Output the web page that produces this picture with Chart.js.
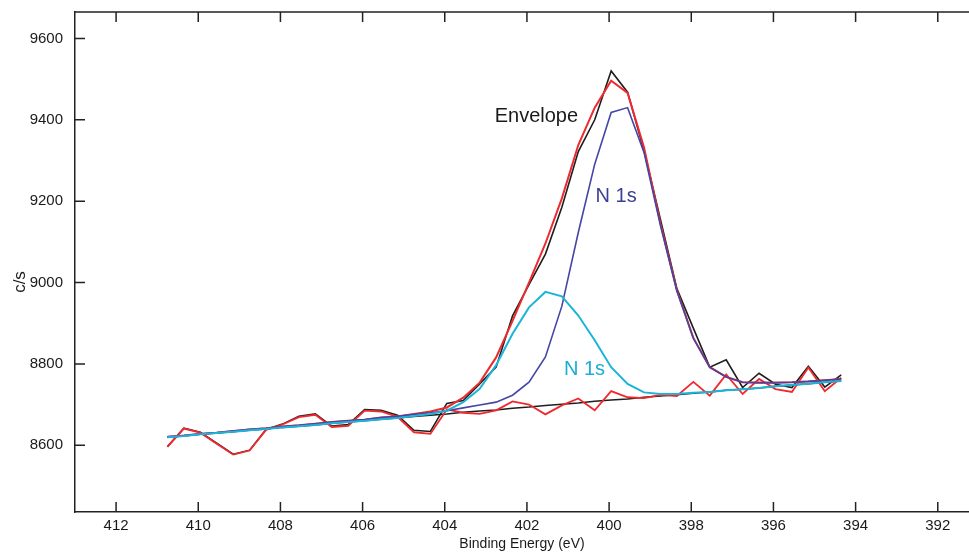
<!DOCTYPE html>
<html>
<head>
<meta charset="utf-8">
<script src="https://cdn.jsdelivr.net/npm/chart.js@4.4.0/dist/chart.umd.min.js"></script>
<style>
  html, body { margin: 0; padding: 0; background: #ffffff; }
  #grafico { display: block; }
</style>
</head>
<body>
<canvas id="grafico" width="969" height="554"></canvas>
<script>
// binding energy of every channel (eV)
const energias = [410.75, 410.35, 409.95, 409.55, 409.15, 408.75, 408.35, 407.95, 407.55, 407.15,
    406.75, 406.35, 405.95, 405.55, 405.15, 404.75, 404.35, 403.95, 403.55, 403.15,
    402.75, 402.35, 401.95, 401.55, 401.15, 400.75, 400.35, 399.95, 399.55, 399.15,
    398.75, 398.35, 397.95, 397.55, 397.15, 396.75, 396.35, 395.95, 395.55, 395.15,
    394.75, 394.35];

// measured spectrum (c/s)
const dadosMedidos = [8597, 8642, 8632, 8605, 8578, 8588, 8639, 8652, 8671, 8677,
    8647, 8651, 8688, 8686, 8674, 8637, 8634, 8703, 8710, 8751,
    8792, 8918, 8995, 9070, 9185, 9322, 9400, 9520, 9468, 9324,
    9155, 8985, 8888, 8792, 8810, 8742, 8777, 8750, 8742, 8794,
    8743, 8773];

// linear background
const fundo = [8620, 8623, 8627, 8630, 8633, 8637, 8640, 8644, 8647, 8650,
    8654, 8657, 8660, 8664, 8667, 8671, 8674, 8677, 8681, 8684,
    8687, 8691, 8694, 8698, 8701, 8704, 8708, 8711, 8714, 8718,
    8721, 8724, 8728, 8731, 8735, 8738, 8741, 8745, 8748, 8751,
    8755, 8758];

// N 1s component at ~399.8 eV (dark blue)
const componenteAzul = [8621, 8624, 8628, 8631, 8635, 8639, 8642, 8646, 8649, 8653,
    8657, 8660, 8663, 8668, 8671, 8676, 8680, 8685, 8692, 8699,
    8706, 8723, 8755, 8817, 8942, 9123, 9291, 9418, 9430, 9320,
    9140, 8979, 8863, 8792, 8768, 8755, 8754, 8754, 8755, 8757,
    8760, 8763];

// N 1s component at ~401.4 eV (cyan)
const componenteCiano = [8620, 8623, 8627, 8630, 8633, 8637, 8640, 8644, 8647, 8650,
    8654, 8657, 8660, 8664, 8667, 8672, 8677, 8685, 8706, 8739,
    8797, 8874, 8939, 8977, 8966, 8919, 8858, 8792, 8751, 8730,
    8726, 8726, 8729, 8731, 8735, 8738, 8741, 8745, 8748, 8751,
    8755, 8758];

// fitted envelope
const envelope = [8621, 8624, 8628, 8631, 8635, 8639, 8642, 8646, 8649, 8653,
    8657, 8660, 8663, 8668, 8671, 8677, 8683, 8693, 8717, 8754,
    8816, 8906, 9000, 9096, 9207, 9338, 9430, 9496, 9466, 9332,
    9145, 8981, 8864, 8792, 8768, 8755, 8754, 8754, 8755, 8757,
    8760, 8763];

// residual drawn on top of the background
const residuo = [8596, 8641, 8631, 8604, 8577, 8587, 8638, 8651, 8669, 8675,
    8645, 8648, 8685, 8683, 8670, 8632, 8628, 8688, 8680, 8677,
    8686, 8708, 8700, 8676, 8698, 8715, 8686, 8733, 8718, 8716,
    8724, 8721, 8756, 8722, 8774, 8726, 8763, 8738, 8731, 8791,
    8733, 8766];

const ticksX = [412, 410, 408, 406, 404, 402, 400, 398, 396, 394, 392];
const ticksY = [8600, 8800, 9000, 9200, 9400, 9600];

// text labels: [texto, energia, contagem, cor]
const rotulos = [
    ['Envelope', 401.77, 9407, '#1a1a1a'],
    ['N 1s', 399.83, 9212, '#3a3f98'],
    ['N 1s', 400.60, 8786, '#1aaed6']
];

const corPreta = '#1e1e1e';
const corVermelha = '#ee2a2e';
const corAzul = '#4446a6';
const corCiano = '#1cb4d8';

function montarPontos(valores) {
    let pontos = [];
    for (let i = 0; i < energias.length; i++) {
        pontos.push({ x: energias[i], y: valores[i] });
    }
    return pontos;
}

function serie(valores, cor, largura) {
    return {
        data: montarPontos(valores),
        borderColor: cor,
        backgroundColor: cor,
        borderWidth: largura,
        pointRadius: 0,
        tension: 0,
        fill: false
    };
}

// inward tick marks, top frame line, axis title for c/s and the peak labels
const moldura = {
    id: 'moldura',
    afterDraw(chart) {
        const ctx = chart.ctx;
        const area = chart.chartArea;
        const escX = chart.scales.x;
        const escY = chart.scales.y;
        ctx.save();
        ctx.strokeStyle = '#222222';
        ctx.lineWidth = 1.5;
        ctx.beginPath();
        ctx.moveTo(area.left, area.top);
        ctx.lineTo(area.right, area.top);
        ticksX.forEach(function (v) {
            const px = escX.getPixelForValue(v);
            ctx.moveTo(px, area.bottom);
            ctx.lineTo(px, area.bottom - 10);
            ctx.moveTo(px, area.top);
            ctx.lineTo(px, area.top + 10);
        });
        ticksY.forEach(function (v) {
            const py = escY.getPixelForValue(v);
            ctx.moveTo(area.left, py);
            ctx.lineTo(area.left + 10, py);
        });
        ctx.stroke();

        ctx.font = '20px "Liberation Sans", Arial, sans-serif';
        ctx.textAlign = 'center';
        ctx.textBaseline = 'middle';
        rotulos.forEach(function (r) {
            ctx.fillStyle = r[3];
            ctx.fillText(r[0], escX.getPixelForValue(r[1]), escY.getPixelForValue(r[2]));
        });

        ctx.translate(20, 282);
        ctx.rotate(-Math.PI / 2);
        ctx.fillStyle = '#1a1a1a';
        ctx.font = '17px "Liberation Sans", Arial, sans-serif';
        ctx.fillText('c/s', 0, 0);
        ctx.restore();
    }
};

const config = {
    type: 'line',
    data: {
        datasets: [
            serie(componenteCiano, corCiano, 2),
            serie(componenteAzul, corAzul, 1.6),
            serie(residuo, corVermelha, 1.8),
            serie(envelope, corVermelha, 2),
            serie(fundo, corPreta, 1.5),
            serie(dadosMedidos, corPreta, 1.6)
        ]
    },
    options: {
        responsive: false,
        animation: false,
        layout: { padding: { top: 12, right: 0, left: 0, bottom: 0 } },
        plugins: {
            legend: { display: false },
            tooltip: { enabled: false }
        },
        scales: {
            x: {
                type: 'linear',
                position: 'bottom',
                reverse: true,
                min: 391.24,
                max: 413,
                afterBuildTicks: function (escala) {
                    escala.ticks = ticksX.map(function (v) { return { value: v }; });
                },
                afterFit: function (escala) {
                    escala.height = 42;
                    escala.paddingLeft = 0;
                    escala.paddingRight = 0;
                },
                grid: { display: false, drawTicks: false },
                border: { display: true, color: '#222222', width: 1.5 },
                ticks: {
                    padding: 5,
                    color: '#1a1a1a',
                    font: { family: '"Liberation Sans", Arial, sans-serif', size: 15 },
                    maxRotation: 0,
                    autoSkip: false,
                    callback: function (v) { return String(v); }
                },
                title: {
                    display: true,
                    text: 'Binding Energy (eV)',
                    color: '#1a1a1a',
                    font: { family: '"Liberation Sans", Arial, sans-serif', size: 14 },
                    padding: { top: 0, bottom: 1 }
                }
            },
            y: {
                type: 'linear',
                position: 'left',
                min: 8436,
                max: 9665,
                afterBuildTicks: function (escala) {
                    escala.ticks = ticksY.map(function (v) { return { value: v }; });
                },
                afterFit: function (escala) {
                    escala.width = 75;
                    escala.paddingTop = 0;
                    escala.paddingBottom = 0;
                },
                grid: { display: false, drawTicks: false },
                border: { display: true, color: '#222222', width: 1.5 },
                ticks: {
                    padding: 12,
                    color: '#1a1a1a',
                    font: { family: '"Liberation Sans", Arial, sans-serif', size: 15 },
                    callback: function (v) { return String(v); }
                }
            }
        }
    },
    plugins: [moldura]
};

new Chart(document.getElementById('grafico'), config);
</script>
</body>
</html>
